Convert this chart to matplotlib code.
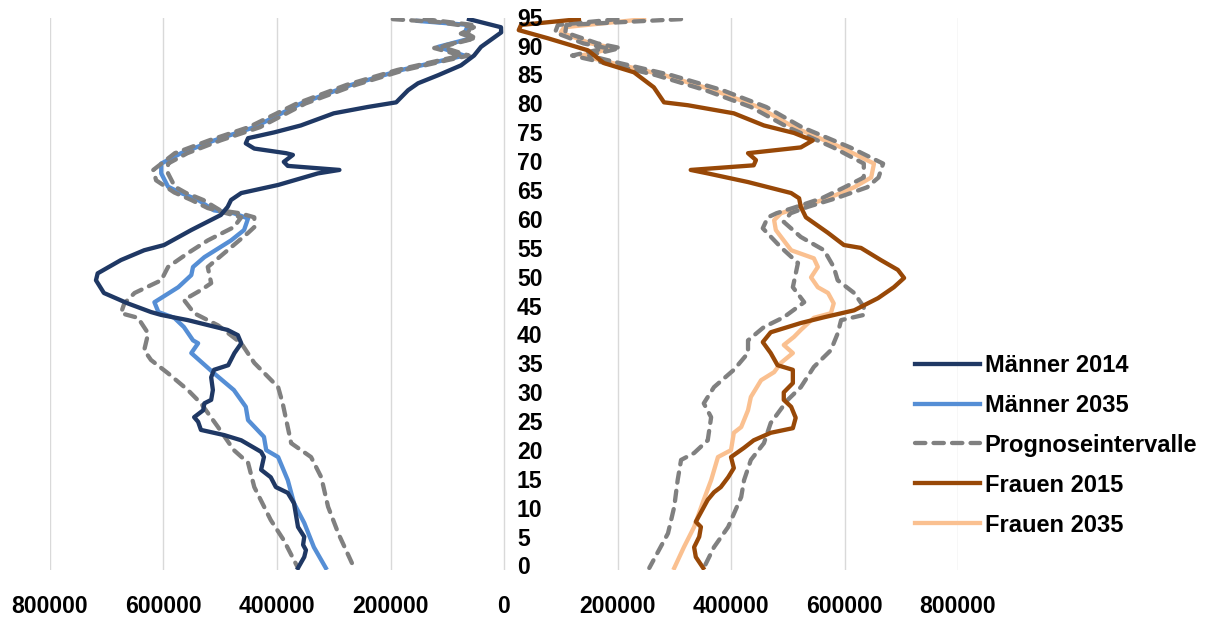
import matplotlib
matplotlib.use("Agg")
import matplotlib.pyplot as plt
from matplotlib.lines import Line2D
import numpy as np

# ---------------- data (ages, population) ----------------
m2014_age = [95, 93.6, 92.7, 90.2, 88.7, 87, 85.3, 83.9, 82.7, 80.6, 79.8, 78.7, 76.6, 75.4, 74.4, 73.5, 72.6,
             71.8, 71.5, 70.3, 69.6, 68.9, 68.3, 66.3, 64.9, 63.7, 62.5, 61.1, 58.5, 55.9, 55.0, 53.3, 51, 49.8,
             47.6, 45.8, 44.3, 43.8, 42.9, 41.2, 40.3, 38.9, 37.2, 35.1, 34.3, 33.0, 30.8, 29.1, 28.5, 27.3, 26.1,
             25.3, 23.9, 23.0, 22.1, 20.1, 19.2, 17.0, 15.7, 14.0, 13.0, 11.2, 7.1, 5.4, 4.0, 3.1, 1.9, 0]
m2014_val = [61700, 5300, 5000, 40500, 52800, 75800, 116000, 151500, 169000, 190000, 240000, 300000, 358000,
             405000, 451000, 455000, 440000, 384000, 372000, 388000, 381000, 290000, 328000, 398000, 463000,
             481000, 487000, 499000, 551000, 599000, 634000, 675000, 716000, 719000, 705000, 663000, 622000,
             604000, 557000, 487000, 469000, 463000, 475000, 486000, 511000, 516000, 513000, 516000, 528000,
             530000, 546000, 539000, 534000, 493000, 463000, 428000, 423000, 428000, 411000, 402000, 381000,
             370000, 363000, 352000, 354000, 349000, 352000, 363000]

m2035_age = [94.7, 94, 92.5, 91.7, 90.2, 88.7, 87.9, 86.2, 83.6, 80.4, 76.3, 74, 71.8, 70, 68.3, 66, 64.9, 63.7,
             61.9, 61.4, 60.5, 58.5, 56.7, 53.8, 52.1, 50.7, 48.6, 46, 44.3, 43.3, 41.7, 39.4, 38.9, 37.2, 33.7,
             30.8, 27.9, 25.6, 22.7, 20.4, 19.2, 15.2, 11.2, 7.8, 3.6, 0]
m2035_val = [152000, 63000, 70000, 58000, 116000, 70000, 106000, 181000, 270000, 358000, 440000, 511000, 569000,
             604000, 604000, 592000, 569000, 539000, 511000, 476000, 451000, 458000, 481000, 528000, 548000,
             551000, 574000, 616000, 609000, 581000, 564000, 548000, 539000, 551000, 511000, 476000, 455000,
             451000, 423000, 419000, 398000, 381000, 370000, 352000, 335000, 314000]

m_low_age = [95, 94, 92.5, 91.7, 90.2, 88.7, 87.9, 86.2, 83.6, 80.4, 76.3, 74, 71.8, 70, 68.3, 66, 64.9, 63.7,
             61.9, 61.4, 60.7, 59, 58, 55.5, 52.1, 49.3, 48.1, 46.4, 44.1, 42, 38.9, 35.5, 31.3, 28.5, 21.6,
             19.2, 15.7, 10.6, 6, 0]
m_low_val = [140000, 55000, 65000, 50000, 110000, 62000, 100000, 175000, 262000, 350000, 430000, 500000, 558000,
             592000, 592000, 580000, 560000, 530000, 500000, 465000, 440000, 440000, 451000, 481000, 522000,
             516000, 534000, 564000, 546000, 504000, 463000, 440000, 398000, 390000, 375000, 340000, 322000,
             310000, 292000, 264000]

m_up_age = [95, 94.5, 93.6, 92.5, 91.7, 90, 88.7, 87.9, 86.2, 83.6, 80.4, 76.3, 74, 71.8, 68.9, 67.1, 65, 63.7,
            62.3, 60.7, 59, 56.7, 54.5, 52.1, 49.8, 47.6, 45.8, 44.1, 43.3, 40.6, 37.7, 36, 33.7, 30.8, 28.5,
            24.4, 20.4, 18.2, 14, 8.3, 4.8, 0]
m_up_val = [196000, 116000, 53000, 76000, 53000, 123000, 75000, 112000, 188000, 278000, 365000, 450000, 520000,
            580000, 618000, 613000, 581000, 551000, 522000, 463000, 476000, 522000, 557000, 592000, 604000,
            651000, 669000, 675000, 645000, 627000, 634000, 622000, 592000, 557000, 534000, 504000, 476000,
            451000, 440000, 411000, 388000, 363000]

f2015_age = [95, 94, 93.1, 91.7, 89.6, 87.4, 85.8, 83.2, 80.6, 80.1, 78.7, 76.6, 75.3, 74, 72.8, 71.8, 70.6, 69.7,
             68.9, 68.3, 66.8, 64.9, 64, 62.5, 60.7, 58, 55.9, 55.4, 53.3, 51.6, 50.2, 48.6, 46.7, 44.6, 43.4,
             42.4, 40.8, 39.1, 37.2, 35.1, 34.3, 32, 30.4, 29.1, 27.9, 26, 24.2, 23.4, 22.1, 20.8, 19.2, 17.3,
             15.7, 14, 13.1, 11.8, 8, 7.1, 5.4, 3.6, 1.9, 0]
f2015_val = [132000, 30000, 26000, 77000, 148000, 176000, 229000, 264000, 282000, 324000, 405000, 458000, 511000,
             544000, 523000, 430000, 444000, 440000, 329000, 359000, 430000, 506000, 520000, 523000, 532000,
             571000, 599000, 629000, 664000, 694000, 705000, 687000, 659000, 617000, 564000, 523000, 470000,
             456000, 470000, 482000, 509000, 509000, 493000, 493000, 506000, 514000, 509000, 470000, 440000,
             423000, 400000, 405000, 395000, 382000, 370000, 359000, 338000, 347000, 344000, 335000, 338000,
             351000]

f2035_age = [95, 93.6, 92.7, 90.8, 90, 88.7, 87.6, 85.3, 82.7, 79.8, 76.3, 72.8, 70, 67.6, 65.9, 64, 62.5, 61.4,
             60.2, 58.5, 55, 53.6, 52.1, 50.3, 48.6, 47.6, 45.8, 44.1, 43.3, 41.2, 40, 38.6, 37.2, 35.5, 33.9,
             32.5, 29.6, 27.3, 25.6, 24.4, 23.4, 20.4, 19.2, 15.2, 11.8, 7.1, 3.6, 0]
f2035_val = [247000, 106000, 100000, 153000, 194000, 136000, 183000, 282000, 370000, 448000, 511000, 594000,
             652000, 647000, 617000, 571000, 523000, 488000, 476000, 479000, 506000, 546000, 553000, 541000,
             553000, 571000, 581000, 576000, 546000, 523000, 511000, 493000, 509000, 488000, 476000, 453000,
             435000, 430000, 423000, 418000, 405000, 400000, 377000, 365000, 352000, 335000, 317000, 300000]

f_low_age = [95, 94, 92.7, 90.8, 90, 88.7, 87.6, 85.3, 82.7, 79.8, 76.3, 72.8, 70, 67.6, 65.9, 64, 62.5, 61.4,
             60.7, 58.8, 55.5, 52.8, 48.6, 46, 43.4, 41.7, 39.4, 37.2, 34.3, 31.3, 28.5, 26.1, 22.1, 19.9, 18.7,
             15.2, 10.6, 6, 0]
f_low_val = [200000, 95000, 90000, 140000, 180000, 120000, 170000, 268000, 355000, 435000, 500000, 580000,
             634000, 634000, 600000, 560000, 515000, 480000, 465000, 456000, 488000, 518000, 509000, 529000,
             493000, 458000, 430000, 430000, 405000, 370000, 352000, 365000, 359000, 335000, 312000, 306000,
             300000, 289000, 256000]

f_up_age = [95, 94, 92.7, 90.8, 90, 88.7, 87.6, 85.3, 82.7, 79.8, 76.3, 72.8, 70, 67.6, 65.9, 64, 62.5, 61.4,
            59.9, 57.3, 55, 52.1, 49.8, 47.6, 45.2, 43.8, 42.9, 40.6, 37.7, 34.8, 31.3, 29.1, 25.1, 21.6, 18.7,
            15.2, 12.3, 7.1, 3.6, 0]
f_up_val = [312000, 110000, 108000, 165000, 205000, 150000, 195000, 295000, 385000, 462000, 525000, 610000,
            668000, 660000, 640000, 585000, 535000, 505000, 493000, 523000, 564000, 581000, 588000, 617000,
            634000, 634000, 594000, 588000, 576000, 546000, 523000, 500000, 470000, 458000, 435000, 423000,
            418000, 395000, 370000, 352000]

x_ticks = [-800000, -600000, -400000, -200000, 0, 200000, 400000, 600000, 800000]
x_ticklabels = ["800000", "600000", "400000", "200000", "0", "200000", "400000", "600000", "800000"]
age_ticks = list(range(0, 96, 5))

labels = ["Männer 2014", "Männer 2035", "Prognoseintervalle", "Frauen 2015", "Frauen 2035"]
c_m14, c_m35, c_gray, c_f15, c_f35 = "#1F3864", "#558ED5", "#808080", "#984807", "#FAC090"

# ---------------- figure ----------------
plt.rcParams['font.family'] = ['Liberation Sans', 'DejaVu Sans']
fig = plt.figure(figsize=(12.10, 6.17), dpi=100)
L, R, T, B = 50, 958, 18, 570
ax = fig.add_axes([L / 1210, 1 - B / 617, (R - L) / 1210, (B - T) / 617])

lw = 3.1
dash = dict(linestyle=(0, (2.4, 1.9)), dash_capstyle='round', color=c_gray, lw=lw)

neg = lambda v: -np.asarray(v)
ax.plot(neg(m2035_val), m2035_age, color=c_m35, lw=lw, zorder=3, solid_joinstyle='round')
ax.plot(f2035_val, f2035_age, color=c_f35, lw=lw, zorder=3, solid_joinstyle='round')
ax.plot(neg(m_low_val), m_low_age, zorder=4, **dash)
ax.plot(neg(m_up_val), m_up_age, zorder=4, **dash)
ax.plot(f_low_val, f_low_age, zorder=4, **dash)
ax.plot(f_up_val, f_up_age, zorder=4, **dash)
ax.plot(neg(m2014_val), m2014_age, color=c_m14, lw=lw, zorder=5, solid_joinstyle='round')
ax.plot(f2015_val, f2015_age, color=c_f15, lw=lw, zorder=5, solid_joinstyle='round')

ax.set_xlim(-800000, 800000)
ax.set_ylim(-0.35, 95.2)
ax.set_xticks(x_ticks)
ax.set_xticklabels(x_ticklabels, fontsize=16.6, fontweight='bold')
ax.set_yticks([])
ax.tick_params(axis='x', length=0, pad=18)
ax.grid(axis='x', color='#D9D9D9', lw=1.0)
ax.set_axisbelow(True)
for s in ax.spines.values():
    s.set_visible(False)

for a in age_ticks:
    ax.text((517 - L) / (R - L), a, str(a), transform=ax.get_yaxis_transform(),
            ha='left', va='center', fontsize=16.6, fontweight='bold', zorder=6)

handles = [Line2D([], [], color=c_m14, lw=lw),
           Line2D([], [], color=c_m35, lw=lw),
           Line2D([], [], **dash),
           Line2D([], [], color=c_f15, lw=lw),
           Line2D([], [], color=c_f35, lw=lw)]
fig.legend(handles, labels, loc='upper left', bbox_to_anchor=(915 / 1210, 1 - 354 / 617),
           frameon=False, borderpad=0, borderaxespad=0, handlelength=2.75, handletextpad=0.2,
           labelspacing=0.715, prop=dict(size=17, weight='bold'))

fig.savefig("out.png", dpi=100)
